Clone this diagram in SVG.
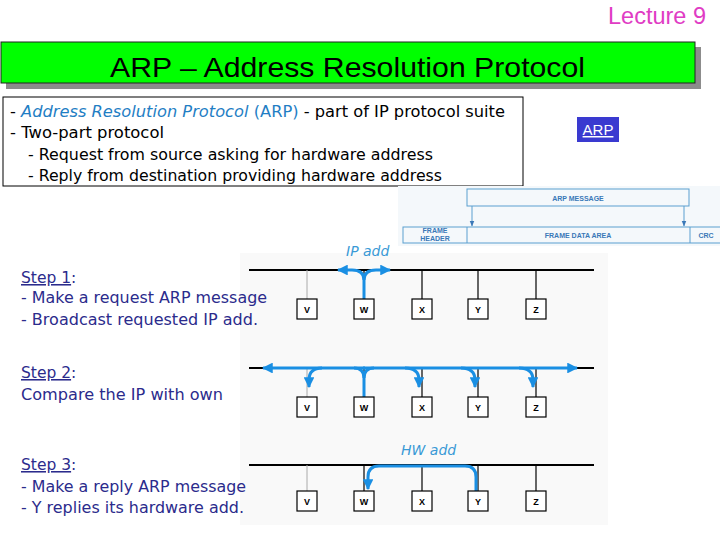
<svg xmlns="http://www.w3.org/2000/svg" width="720" height="540" viewBox="0 0 720 540">
<defs>
<style>
.body{font-family:"DejaVu Sans","Liberation Sans",sans-serif;font-size:15.5px;fill:#000}
.step{font-family:"DejaVu Sans","Liberation Sans",sans-serif;font-size:15.5px;fill:#2b2b8c}
.bus{stroke:#000;stroke-width:2;fill:none}
.drop{stroke:#000;stroke-width:1.2;fill:none}
.dropv{stroke:#aaa;stroke-width:1;fill:none}
.node rect{fill:#fff;stroke:#000;stroke-width:1.2}
.node text{font-family:"Liberation Sans",Arial,sans-serif;font-size:9px;font-weight:bold;text-anchor:middle;fill:#000}
.flow{stroke:#1a8fe3;stroke-width:3;fill:none}
.lbl{font-family:"DejaVu Sans","Liberation Sans",sans-serif;font-style:italic;font-size:14px;fill:#3a9ad6}
.fr{fill:none;stroke:#5a9fd0;stroke-width:1}
.frt{font-family:"Liberation Sans",Arial,sans-serif;font-size:7px;font-weight:bold;fill:#3a78b8;text-anchor:middle}
</style>
<marker id="ah" viewBox="0 0 10 10" refX="9" refY="5" markerWidth="3.6" markerHeight="3.6" orient="auto" markerUnits="strokeWidth">
<path d="M0,0 L10,5 L0,10 z" fill="#1a8fe3"/>
</marker>
<marker id="ahs" viewBox="0 0 10 10" refX="9" refY="5" markerWidth="6" markerHeight="6" orient="auto" markerUnits="strokeWidth">
<path d="M0,1 L10,5 L0,9 z" fill="#3a78b8"/>
</marker>
</defs>
<rect width="720" height="540" fill="#fff"/>

<text x="706" y="24" text-anchor="end" font-family="Liberation Sans,Arial,sans-serif" font-size="24" fill="#e03cc4" textLength="98" lengthAdjust="spacingAndGlyphs">Lecture 9</text>

<g id="title">
<rect x="6" y="47" width="695" height="42" fill="#8c8c8c"/>
<rect x="1" y="42" width="694" height="41" fill="#00ff00" stroke="#222" stroke-width="1"/>
<text x="110" y="77" font-family="Liberation Sans,Arial,sans-serif" font-size="28" fill="#000" textLength="475" lengthAdjust="spacingAndGlyphs">ARP – Address Resolution Protocol</text>
</g>

<g id="infobox">
<rect x="3" y="97" width="520" height="89" fill="#fff" stroke="#000" stroke-width="1"/>
<text class="body" x="10" y="117" textLength="495" lengthAdjust="spacingAndGlyphs">- <tspan font-style="italic" fill="#1f7ec4">Address Resolution Protocol</tspan>  <tspan fill="#1f7ec4">(ARP)</tspan> - part of IP protocol suite</text>
<text class="body" x="10" y="138" textLength="154" lengthAdjust="spacingAndGlyphs">- Two-part protocol</text>
<text class="body" x="28" y="160" textLength="405" lengthAdjust="spacingAndGlyphs">- Request from source asking for hardware address</text>
<text class="body" x="28" y="181" textLength="414" lengthAdjust="spacingAndGlyphs">- Reply from destination providing hardware address</text>
</g>

<g id="arp-button">
<rect x="577" y="117" width="42" height="25" fill="#3a3ad0"/>
<text x="598" y="135" text-anchor="middle" font-family="Liberation Sans,Arial,sans-serif" font-size="15" fill="#fff" text-decoration="underline">ARP</text>
</g>

<g id="frame">
<rect x="398" y="186" width="322" height="60" fill="#f4f8fb"/>
<rect class="fr" x="467" y="189" width="222" height="17"/>
<text class="frt" x="578" y="201">ARP MESSAGE</text>
<rect class="fr" x="403" y="227" width="330" height="16"/>
<line class="fr" x1="467" y1="227" x2="467" y2="243"/>
<line class="fr" x1="690" y1="227" x2="690" y2="243"/>
<text class="frt" x="435" y="233">FRAME</text>
<text class="frt" x="435" y="241">HEADER</text>
<text class="frt" x="578" y="238">FRAME DATA AREA</text>
<text class="frt" x="706" y="238">CRC</text>
<line class="fr" x1="472" y1="206" x2="472" y2="226" marker-end="url(#ahs)"/>
<line class="fr" x1="684" y1="206" x2="684" y2="226" marker-end="url(#ahs)"/>
</g>

<rect x="240" y="253" width="368" height="272" fill="#f9f9f9"/>

<g id="steps">
<text class="step" x="21" y="283"><tspan text-decoration="underline">Step 1</tspan>:</text>
<text class="step" x="21" y="303" textLength="246" lengthAdjust="spacingAndGlyphs">- Make a request ARP message</text>
<text class="step" x="21" y="325" textLength="237" lengthAdjust="spacingAndGlyphs">- Broadcast requested IP add.</text>
<text class="step" x="21" y="378"><tspan text-decoration="underline">Step 2</tspan>:</text>
<text class="step" x="21" y="400" textLength="202" lengthAdjust="spacingAndGlyphs">Compare the IP with own</text>
<text class="step" x="21" y="470"><tspan text-decoration="underline">Step 3</tspan>:</text>
<text class="step" x="21" y="492" textLength="225" lengthAdjust="spacingAndGlyphs">- Make a reply ARP message</text>
<text class="step" x="21" y="513" textLength="223" lengthAdjust="spacingAndGlyphs">- Y replies its hardware add.</text>
</g>

<g id="connectors">
<!-- panel 1 -->
<line class="bus" x1="249" y1="270" x2="594" y2="270"/>
<line class="dropv" x1="307" y1="270" x2="307" y2="299"/>
<line class="drop" x1="364" y1="270" x2="364" y2="299"/>
<line class="drop" x1="422" y1="270" x2="422" y2="299"/>
<line class="drop" x1="478" y1="270" x2="478" y2="299"/>
<line class="drop" x1="536" y1="270" x2="536" y2="299"/>
<path class="flow" d="M364,299 V280 Q364,270 352,270 H338" marker-end="url(#ah)"/>
<path class="flow" d="M364,280 Q364,270 376,270 H390" marker-end="url(#ah)"/>
<!-- panel 2 -->
<line class="bus" x1="249" y1="368" x2="594" y2="368"/>
<line class="dropv" x1="307" y1="368" x2="307" y2="397"/>
<line class="drop" x1="364" y1="368" x2="364" y2="397"/>
<line class="drop" x1="422" y1="368" x2="422" y2="397"/>
<line class="drop" x1="478" y1="368" x2="478" y2="397"/>
<line class="drop" x1="536" y1="368" x2="536" y2="397"/>
<path class="flow" d="M365,368 H263" marker-end="url(#ah)"/>
<path class="flow" d="M363,368 H577" marker-end="url(#ah)"/>
<path class="flow" d="M364,397 V378 Q364,368 354,368"/>
<path class="flow" d="M364,378 Q364,368 374,368"/>
<path class="flow" d="M322,368 Q309,368 309,380 V387" marker-end="url(#ah)"/>
<path class="flow" d="M405,368 Q419,368 419,380 V387" marker-end="url(#ah)"/>
<path class="flow" d="M461,368 Q475,368 475,380 V387" marker-end="url(#ah)"/>
<path class="flow" d="M519,368 Q533,368 533,380 V387" marker-end="url(#ah)"/>
<!-- panel 3 -->
<line class="bus" x1="249" y1="465" x2="594" y2="465"/>
<line class="dropv" x1="307" y1="465" x2="307" y2="491"/>
<line class="drop" x1="364" y1="465" x2="364" y2="491"/>
<line class="drop" x1="422" y1="465" x2="422" y2="491"/>
<line class="drop" x1="478" y1="465" x2="478" y2="491"/>
<line class="drop" x1="536" y1="465" x2="536" y2="491"/>
<path class="flow" d="M476,491 V477 Q476,466 465,466 H379 Q368,466 368,477 V489" marker-end="url(#ah)"/>
</g>

<text class="lbl" x="346" y="256">IP add</text>
<text class="lbl" x="401" y="455">HW add</text>

<g id="p1-V" class="node"><rect x="297" y="299" width="20" height="20"/><text x="307" y="313">V</text></g>
<g id="p1-W" class="node"><rect x="354" y="299" width="20" height="20"/><text x="364" y="313">W</text></g>
<g id="p1-X" class="node"><rect x="412" y="299" width="20" height="20"/><text x="422" y="313">X</text></g>
<g id="p1-Y" class="node"><rect x="468" y="299" width="20" height="20"/><text x="478" y="313">Y</text></g>
<g id="p1-Z" class="node"><rect x="526" y="299" width="20" height="20"/><text x="536" y="313">Z</text></g>

<g id="p2-V" class="node"><rect x="297" y="397" width="20" height="20"/><text x="307" y="411">V</text></g>
<g id="p2-W" class="node"><rect x="354" y="397" width="20" height="20"/><text x="364" y="411">W</text></g>
<g id="p2-X" class="node"><rect x="412" y="397" width="20" height="20"/><text x="422" y="411">X</text></g>
<g id="p2-Y" class="node"><rect x="468" y="397" width="20" height="20"/><text x="478" y="411">Y</text></g>
<g id="p2-Z" class="node"><rect x="526" y="397" width="20" height="20"/><text x="536" y="411">Z</text></g>

<g id="p3-V" class="node"><rect x="297" y="491" width="20" height="20"/><text x="307" y="505">V</text></g>
<g id="p3-W" class="node"><rect x="354" y="491" width="20" height="20"/><text x="364" y="505">W</text></g>
<g id="p3-X" class="node"><rect x="412" y="491" width="20" height="20"/><text x="422" y="505">X</text></g>
<g id="p3-Y" class="node"><rect x="468" y="491" width="20" height="20"/><text x="478" y="505">Y</text></g>
<g id="p3-Z" class="node"><rect x="526" y="491" width="20" height="20"/><text x="536" y="505">Z</text></g>
</svg>
